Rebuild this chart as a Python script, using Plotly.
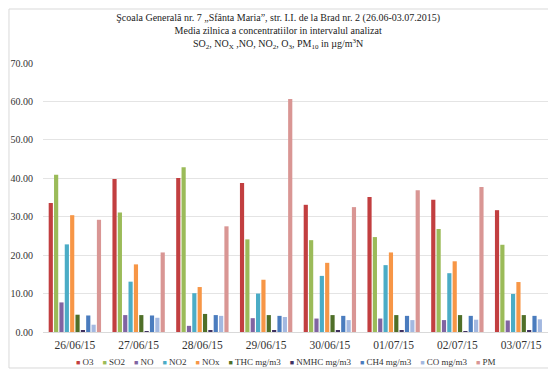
import plotly.graph_objects as go

dates = ["26/06/15", "27/06/15", "28/06/15", "29/06/15", "30/06/15", "01/07/15", "02/07/15", "03/07/15"]

o3 = [33.6, 39.8, 40.1, 38.8, 33.1, 35.1, 34.4, 31.7]
so2 = [40.9, 31.1, 42.9, 24.1, 23.9, 24.7, 26.8, 22.7]
no = [7.7, 4.4, 1.6, 3.6, 3.5, 3.5, 3.1, 3.0]
no2 = [22.8, 13.1, 10.1, 10.0, 14.6, 17.4, 15.3, 9.9]
nox = [30.4, 17.6, 11.7, 13.6, 18.0, 20.7, 18.4, 13.0]
thc = [4.5, 4.4, 4.7, 4.4, 4.4, 4.4, 4.4, 4.4]
nmhc = [0.3, 0.2, 0.4, 0.3, 0.3, 0.3, 0.2, 0.3]
ch4 = [4.3, 4.3, 4.4, 4.2, 4.2, 4.2, 4.2, 4.2]
co = [1.9, 3.7, 4.2, 3.9, 3.1, 3.1, 3.2, 3.3]
pm = [29.2, 20.7, 27.5, 60.6, 32.5, 36.9, 37.7, None]

series_names = ["O3", "SO2", "NO", "NO2", "NOx", "THC mg/m3", "NMHC mg/m3", "CH4 mg/m3", "CO mg/m3", "PM"]
series_values = [o3, so2, no, no2, nox, thc, nmhc, ch4, co, pm]
colors = ["#C23F40", "#9BBB59", "#8064A2", "#4BACC6", "#F79646",
          "#4F6F28", "#3F3161", "#4A7CBE", "#A3B8E0", "#D99694"]

fig = go.Figure()
for name, vals, col in zip(series_names, series_values, colors):
    fig.add_trace(go.Bar(x=dates, y=vals, name=name, marker_color=col,
                         marker_line_width=0, showlegend=False))

title = ("Şcoala Generală nr. 7 „Sfânta Maria”, str. I.I. de la Brad nr. 2 (26.06-03.07.2015)<br>"
         "Media zilnica a concentratiilor in intervalul analizat<br>"
         "SO<sub>2</sub>, NO<sub>X</sub> ,NO, NO<sub>2</sub>, O<sub>3</sub>, PM<sub>10</sub> in µg/m<sup>3</sup>N")

legend_text = "&nbsp;&nbsp;&nbsp;&nbsp;".join(
    f"<span style='color:{c}; font-size:7px'>■</span>&nbsp;{n}" for n, c in zip(series_names, colors)
)

fig.update_layout(
    width=548, height=361,
    margin=dict(l=35, r=3, t=55, b=37),
    paper_bgcolor="white", plot_bgcolor="white",
    font=dict(family="Liberation Serif", color="#333333"),
    title=dict(text=title, x=0.493, xanchor="center", y=0.964, yanchor="top",
               font=dict(size=10, family="Liberation Serif", color="#222222")),
    barmode="group", bargap=0.16, bargroupgap=0.22,
    showlegend=False,
)
fig.add_annotation(text=legend_text, xref="paper", yref="paper", x=0.476, y=-0.1115,
                   xanchor="center", yanchor="middle", showarrow=False,
                   font=dict(size=9, family="Liberation Serif", color="#333333"))

fig.update_yaxes(range=[0, 70], dtick=10, tickformat=".2f", showgrid=True,
                 gridcolor="#E4E4E4", gridwidth=1, zeroline=False, showline=False,
                 tickfont=dict(size=10, color="#333333"), ticks="", ticklabelstandoff=9)
fig.update_xaxes(showline=True, linecolor="#D9D9D9", linewidth=1, ticks="",
                 tickfont=dict(size=11.5, color="#333333"), type="category",
                 ticklabelstandoff=2)

fig.add_shape(type="rect", xref="paper", yref="paper",
              x0=-0.0667, x1=1.0039, y0=-0.1338, y1=1.2007,
              line=dict(color="#D9D9D9", width=1))

fig.write_html("out.html")
